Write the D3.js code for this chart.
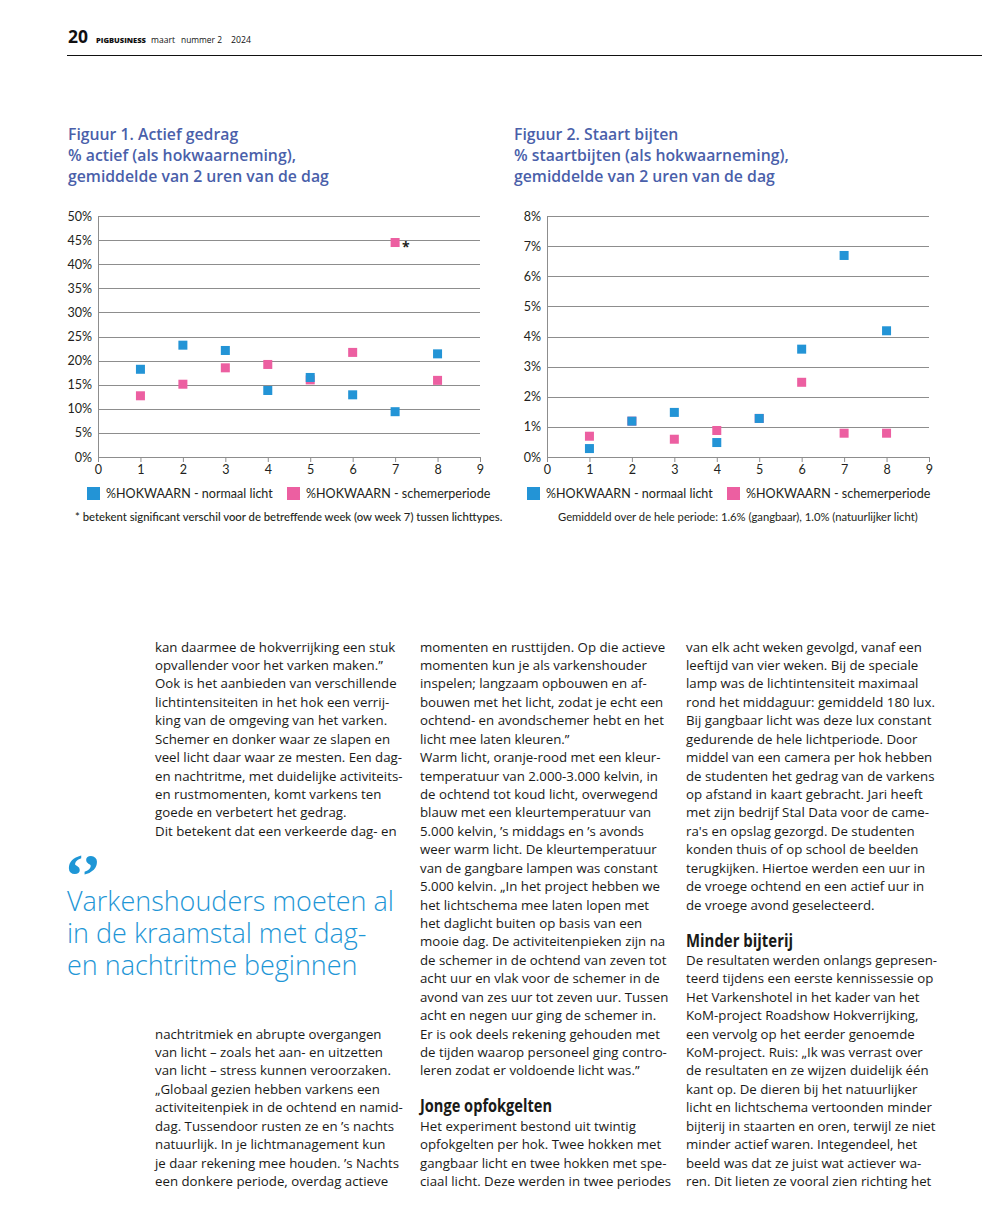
<!DOCTYPE html>
<html>
<head>
<meta charset="utf-8">
<script src="https://cdn.jsdelivr.net/npm/d3@7"></script>
<style>
  html, body { margin: 0; padding: 0; background: #fff; }
  svg { display: block; }
</style>
</head>
<body>
<div id="page"></div>
<script>
// ---- chart data ----
var weeks = [1, 2, 3, 4, 5, 6, 7, 8];
var xTickValues = [0, 1, 2, 3, 4, 5, 6, 7, 8, 9];

// figuur 1: % actief
var actiefNormaal = [18.2, 23.2, 22.1, 13.8, 16.5, 12.9, 9.4, 21.4];
var actiefSchemer = [12.7, 15.1, 18.5, 19.2, 16.0, 21.7, 44.5, 15.9];
var actiefTicks = [0, 5, 10, 15, 20, 25, 30, 35, 40, 45, 50];
var significantWeek = 7;

// figuur 2: % staartbijten
var bijtenNormaal = [0.28, 1.19, 1.48, 0.48, 1.28, 3.58, 6.69, 4.19];
var bijtenSchemer = [0.69, 1.19, 0.59, 0.88, 1.28, 2.48, 0.79, 0.79];
var bijtenTicks = [0, 1, 2, 3, 4, 5, 6, 7, 8];

var seriesNames = ["%HOKWAARN - normaal licht", "%HOKWAARN - schemerperiode"];

var titles1 = ["Figuur 1. Actief gedrag", "% actief (als hokwaarneming),", "gemiddelde van 2 uren van de dag"];
var titles2 = ["Figuur 2. Staart bijten", "% staartbijten (als hokwaarneming),", "gemiddelde van 2 uren van de dag"];
var note1 = "* betekent significant verschil voor de betreffende week (ow week 7) tussen lichttypes.";
var note2 = "Gemiddeld over de hele periode: 1.6% (gangbaar), 1.0% (natuurlijker licht)";

// ---- article text ----
var col1Top = [
  "kan daarmee de hokverrijking een stuk",
  "opvallender voor het varken maken.\u201d",
  "Ook is het aanbieden van verschillende",
  "lichtintensiteiten in het hok een verrij-",
  "king van de omgeving van het varken.",
  "Schemer en donker waar ze slapen en",
  "veel licht daar waar ze mesten. Een dag-",
  "en nachtritme, met duidelijke activiteits-",
  "en rustmomenten, komt varkens ten",
  "goede en verbetert het gedrag.",
  "Dit betekent dat een verkeerde dag- en"
];
var col1Bottom = [
  "nachtritmiek en abrupte overgangen",
  "van licht \u2013 zoals het aan- en uitzetten",
  "van licht \u2013 stress kunnen veroorzaken.",
  "\u201eGlobaal gezien hebben varkens een",
  "activiteitenpiek in de ochtend en namid-",
  "dag. Tussendoor rusten ze en \u2019s nachts",
  "natuurlijk. In je lichtmanagement kun",
  "je daar rekening mee houden. \u2019s Nachts",
  "een donkere periode, overdag actieve"
];
var col2Top = [
  "momenten en rusttijden. Op die actieve",
  "momenten kun je als varkenshouder",
  "inspelen; langzaam opbouwen en af-",
  "bouwen met het licht, zodat je echt een",
  "ochtend- en avondschemer hebt en het",
  "licht mee laten kleuren.\u201d",
  "Warm licht, oranje-rood met een kleur-",
  "temperatuur van 2.000-3.000 kelvin, in",
  "de ochtend tot koud licht, overwegend",
  "blauw met een kleurtemperatuur van",
  "5.000 kelvin, \u2019s middags en \u2019s avonds",
  "weer warm licht. De kleurtemperatuur",
  "van de gangbare lampen was constant",
  "5.000 kelvin. \u201eIn het project hebben we",
  "het lichtschema mee laten lopen met",
  "het daglicht buiten op basis van een",
  "mooie dag. De activiteitenpieken zijn na",
  "de schemer in de ochtend van zeven tot",
  "acht uur en vlak voor de schemer in de",
  "avond van zes uur tot zeven uur. Tussen",
  "acht en negen uur ging de schemer in.",
  "Er is ook deels rekening gehouden met",
  "de tijden waarop personeel ging contro-",
  "leren zodat er voldoende licht was.\u201d"
];
var col2Heading = "Jonge opfokgelten";
var col2Bottom = [
  "Het experiment bestond uit twintig",
  "opfokgelten per hok. Twee hokken met",
  "gangbaar licht en twee hokken met spe-",
  "ciaal licht. Deze werden in twee periodes"
];
var col3Top = [
  "van elk acht weken gevolgd, vanaf een",
  "leeftijd van vier weken. Bij de speciale",
  "lamp was de lichtintensiteit maximaal",
  "rond het middaguur: gemiddeld 180 lux.",
  "Bij gangbaar licht was deze lux constant",
  "gedurende de hele lichtperiode. Door",
  "middel van een camera per hok hebben",
  "de studenten het gedrag van de varkens",
  "op afstand in kaart gebracht. Jari heeft",
  "met zijn bedrijf Stal Data voor de came-",
  "ra's en opslag gezorgd. De studenten",
  "konden thuis of op school de beelden",
  "terugkijken. Hiertoe werden een uur in",
  "de vroege ochtend en een actief uur in",
  "de vroege avond geselecteerd."
];
var col3Heading = "Minder bijterij";
var col3Bottom = [
  "De resultaten werden onlangs gepresen-",
  "teerd tijdens een eerste kennissessie op",
  "Het Varkenshotel in het kader van het",
  "KoM-project Roadshow Hokverrijking,",
  "een vervolg op het eerder genoemde",
  "KoM-project. Ruis: \u201eIk was verrast over",
  "de resultaten en ze wijzen duidelijk \u00e9\u00e9n",
  "kant op. De dieren bij het natuurlijker",
  "licht en lichtschema vertoonden minder",
  "bijterij in staarten en oren, terwijl ze niet",
  "minder actief waren. Integendeel, het",
  "beeld was dat ze juist wat actiever wa-",
  "ren. Dit lieten ze vooral zien richting het"
];
var quoteLines = ["Varkenshouders moeten al", "in de kraamstal met dag-", "en nachtritme beginnen"];

// ---- styles ----
var BLUE = "#2394d6",
    PINK = "#ec5fa1",
    TITLE = "#4a5faa",
    QUOTE = "#1e96d6",
    INK = "#1a1a18",
    GRID = "#8d8d8d";

var bodyFont = "'Open Sans', sans-serif",
    chartFont = "Lato, sans-serif";

var W = 982, H = 1213;

var svg = d3.select("#page").append("svg")
  .attr("width", W)
  .attr("height", H)
  .attr("viewBox", "0 0 " + W + " " + H);

// measure a string at 100px and scale to a wanted width
var fitSize = function(family, weight, text, width) {
  var t = svg.append("text")
    .attr("font-family", family)
    .attr("font-weight", weight)
    .attr("font-size", 100)
    .text(text);
  var w = t.node().getComputedTextLength();
  t.remove();
  return 100 * width / w;
};

var bodySize = fitSize(bodyFont, 400, col1Top[2], 242);
var quoteSize = fitSize(bodyFont, 300, quoteLines[0], 327);
var titleSize = fitSize(bodyFont, 600, titles1[2], 261);
var legendSize = fitSize(chartFont, 400, seriesNames[0], 167);
var note1Size = fitSize(chartFont, 500, note1, 428);
var note2Size = fitSize(chartFont, 400, note2, 360);

// ---- header ----
var header = svg.append("g").attr("font-family", bodyFont).attr("fill", "#111");
header.append("text")
  .attr("x", 68).attr("y", 43)
  .attr("font-size", fitSize(bodyFont, 700, "20", 20))
  .attr("font-weight", 700)
  .text("20");
header.append("text")
  .attr("x", 96).attr("y", 43)
  .attr("font-size", fitSize(bodyFont, 800, "PIGBUSINESS", 50))
  .attr("font-weight", 800)
  .text("PIGBUSINESS");
[["maart", 151, 24], ["nummer 2", 181, 41], ["2024", 231, 20]].forEach(function(d) {
  header.append("text")
    .attr("x", d[1]).attr("y", 43)
    .attr("font-size", fitSize(bodyFont, 400, d[0], d[2]))
    .text(d[0]);
});
svg.append("line")
  .attr("x1", 67).attr("x2", W)
  .attr("y1", 55.5).attr("y2", 55.5)
  .attr("stroke", "#111").attr("stroke-width", 1.2);

// ---- charts ----
var drawChart = function(opt) {
  var g = svg.append("g");

  var x = d3.scaleLinear().domain([0, 9]).range([opt.left, opt.left + 382]);
  var y = d3.scaleLinear().domain([0, opt.max]).range([457, 216]);

  // titles
  g.append("g").selectAll("text")
    .data(opt.titles)
    .enter()
    .append("text")
    .attr("x", opt.titleX)
    .attr("y", function(d, i) { return 140 + i * 21; })
    .attr("font-family", bodyFont)
    .attr("font-weight", 600)
    .attr("font-size", titleSize)
    .attr("fill", TITLE)
    .text(function(d) { return d; });

  // gridlines
  g.append("g").selectAll("line")
    .data(opt.ticks.filter(function(d) { return d > 0; }))
    .enter()
    .append("line")
    .attr("x1", x(0)).attr("x2", x(9))
    .attr("y1", function(d) { return Math.round(y(d)) + 0.5; })
    .attr("y2", function(d) { return Math.round(y(d)) + 0.5; })
    .attr("stroke", GRID)
    .attr("stroke-width", 1);

  // y axis
  var yAxis = d3.axisLeft(y)
    .tickValues(opt.ticks)
    .tickSize(0)
    .tickSizeOuter(0)
    .tickPadding(6)
    .tickFormat(function(d) { return d + "%"; });

  var yg = g.append("g")
    .attr("transform", "translate(" + x(0) + ",0)")
    .call(yAxis);

  // x axis
  var xAxis = d3.axisBottom(x)
    .tickValues(xTickValues)
    .tickSize(5)
    .tickSizeOuter(0)
    .tickPadding(3)
    .tickFormat(d3.format("d"));

  var xg = g.append("g")
    .attr("transform", "translate(0," + y(0) + ")")
    .call(xAxis);

  [yg, xg].forEach(function(a) {
    a.attr("font-family", chartFont).attr("font-size", legendSize);
    a.selectAll("path.domain").attr("stroke", GRID);
    a.selectAll(".tick line").attr("stroke", GRID);
    a.selectAll(".tick text").attr("fill", "#231f20");
  });

  // markers: schemer first, normaal on top
  var series = [
    { values: opt.schemer, color: PINK },
    { values: opt.normaal, color: BLUE }
  ];
  var ms = 9;
  series.forEach(function(s) {
    g.append("g").selectAll("rect")
      .data(weeks)
      .enter()
      .append("rect")
      .attr("x", function(d) { return x(d) - ms / 2; })
      .attr("y", function(d, i) { return y(s.values[i]) - ms / 2; })
      .attr("width", ms)
      .attr("height", ms)
      .attr("fill", s.color);
  });

  if (opt.star) {
    var i = weeks.indexOf(opt.star);
    g.append("text")
      .attr("x", x(opt.star) + 7)
      .attr("y", y(opt.schemer[i]) + 9)
      .attr("font-family", bodyFont)
      .attr("font-weight", 700)
      .attr("font-size", 14)
      .attr("fill", "#231f20")
      .text("*");
  }

  // legend
  var legend = g.append("g").attr("font-family", chartFont).attr("font-size", legendSize);
  [[BLUE, opt.legendX[0]], [PINK, opt.legendX[1]]].forEach(function(d, k) {
    legend.append("rect")
      .attr("x", d[1]).attr("y", 487)
      .attr("width", 13).attr("height", 13)
      .attr("fill", d[0]);
    legend.append("text")
      .attr("x", d[1] + 19).attr("y", 498)
      .attr("fill", "#231f20")
      .text(seriesNames[k]);
  });

  g.append("text")
    .attr("x", opt.noteX).attr("y", 520.5)
    .attr("font-family", chartFont)
    .attr("font-weight", opt.noteWeight)
    .attr("font-size", opt.noteSize)
    .attr("fill", "#231f20")
    .text(opt.note);
};

drawChart({
  left: 98, max: 50, ticks: actiefTicks,
  normaal: actiefNormaal, schemer: actiefSchemer,
  titles: titles1, titleX: 68,
  legendX: [87, 287],
  star: significantWeek,
  note: note1, noteX: 75, noteSize: note1Size, noteWeight: 500
});

drawChart({
  left: 547, max: 8, ticks: bijtenTicks,
  normaal: bijtenNormaal, schemer: bijtenSchemer,
  titles: titles2, titleX: 514,
  legendX: [527, 727],
  star: null,
  note: note2, noteX: 558, noteSize: note2Size, noteWeight: 400
});

// ---- article columns ----
var LH = 18.43;

var writeLines = function(lines, x, y0) {
  svg.append("g").selectAll("text")
    .data(lines)
    .enter()
    .append("text")
    .attr("x", x)
    .attr("y", function(d, i) { return y0 + i * LH; })
    .attr("font-family", bodyFont)
    .attr("font-size", bodySize)
    .attr("fill", INK)
    .text(function(d) { return d; });
};

var top0 = 651.5;
writeLines(col1Top, 155, top0);
writeLines(col1Bottom, 155, top0 + 21 * LH);
writeLines(col2Top, 420, top0);
writeLines(col3Top, 686, top0);

// bold condensed subheads: natural bold size, squeezed to the measured width
var heading = function(text, x, y, width) {
  svg.append("text")
    .attr("x", x).attr("y", y)
    .attr("font-family", bodyFont)
    .attr("font-weight", 700)
    .attr("font-size", 18)
    .attr("fill", INK)
    .attr("textLength", width)
    .attr("lengthAdjust", "spacingAndGlyphs")
    .text(text);
};

var last2 = top0 + (col2Top.length - 1) * LH;
heading(col2Heading, 420, last2 + 37, 132);
writeLines(col2Bottom, 420, last2 + 3 * LH);

var last3 = top0 + (col3Top.length - 1) * LH;
heading(col3Heading, 686, last3 + 37, 107);
writeLines(col3Bottom, 686, last3 + 3 * LH);

// ---- pull quote: one text block, quote mark + three lines ----
var quote = svg.append("text")
  .attr("fill", QUOTE)
  .attr("font-family", bodyFont)
  .attr("font-weight", 300)
  .attr("font-size", quoteSize);

quote.append("tspan")
  .attr("x", 64).attr("y", 896)
  .attr("font-family", "'Liberation Serif', serif")
  .attr("font-weight", 700)
  .attr("font-size", 62)
  .attr("letter-spacing", -4)
  .text("\u2018\u2019");

quote.selectAll("tspan.line")
  .data(quoteLines)
  .enter()
  .append("tspan")
  .attr("class", "line")
  .attr("x", 67)
  .attr("y", function(d, i) { return 910.5 + i * 32.2; })
  .text(function(d) { return d; });
</script>
</body>
</html>
